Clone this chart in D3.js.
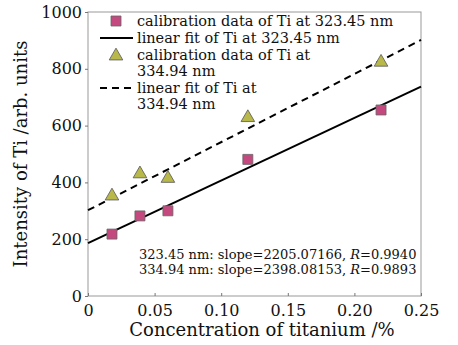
<!DOCTYPE html>
<html>
<head>
<meta charset="utf-8">
<script src="https://cdn.jsdelivr.net/npm/d3@7"></script>
<style>
  body { margin: 0; background: #fff; }
  svg text { font-family: "DejaVu Serif", serif; fill: #111; }
</style>
</head>
<body>
<svg id="chart" width="458" height="345"></svg>
<script>
// concentration of titanium (%)
const conc = [0.018, 0.039, 0.06, 0.12, 0.22];
// intensity at 323.45 nm
const ti323 = [218, 282, 300, 481, 655];
// intensity at 334.94 nm
const ti334 = [352, 430, 414, 628, 823];
// linear fits [intercept, slope]
const fit323 = [186, 2205.07166];
const fit334 = [302, 2398.08153];
const xTicks = [0, 0.05, 0.10, 0.15, 0.20, 0.25];
const yTicks = [0, 200, 400, 600, 800, 1000];
const legendLabels = [
  ["calibration data of Ti at 323.45 nm"],
  ["linear fit of Ti at 323.45 nm"],
  ["calibration data of Ti at", "334.94 nm"],
  ["linear fit of Ti at", "334.94 nm"]
];
const notes = [
  ["323.45 nm: slope=2205.07166, ", "R", "=0.9940"],
  ["334.94 nm: slope=2398.08153, ", "R", "=0.9893"]
];

const margin = {top: 12, right: 37, bottom: 49, left: 88};
const width = 458 - margin.left - margin.right;
const height = 345 - margin.top - margin.bottom;

const svg = d3.select("#chart");
const g = svg.append("g").attr("transform", `translate(${margin.left},${margin.top})`);

const x = d3.scaleLinear().domain([0, 0.25]).range([0, width]);
const y = d3.scaleLinear().domain([0, 1000]).range([height, 0]);

// frame
g.append("rect")
  .attr("width", width).attr("height", height)
  .attr("fill", "none").attr("stroke", "#999").attr("stroke-width", 1);

// x axis
const xAxis = g.append("g")
  .attr("transform", `translate(0,${height})`)
  .call(d3.axisBottom(x).tickValues(xTicks).tickSize(-3).tickPadding(9)
    .tickFormat((d, i) => i == 0 ? "0" : d3.format(".2f")(d)));
xAxis.select(".domain").remove();
xAxis.selectAll("line").attr("stroke", "#777");
xAxis.selectAll("text").style("font-size", "16px").attr("fill", "#111");

// y axis
const yAxis = g.append("g")
  .call(d3.axisLeft(y).tickValues(yTicks).tickSize(3).tickPadding(3).tickFormat(d3.format("d")));
yAxis.select(".domain").remove();
yAxis.selectAll("line").attr("stroke", "#777");
yAxis.selectAll("text").style("font-size", "16px").attr("fill", "#111");

// fit lines
const fitLine = (f) => [[0, f[0]], [0.25, f[0] + f[1] * 0.25]];
const line = d3.line().x(d => x(d[0])).y(d => y(d[1]));
g.append("path").datum(fitLine(fit323)).attr("d", line)
  .attr("fill", "none").attr("stroke", "#000").attr("stroke-width", 2);
g.append("path").datum(fitLine(fit334)).attr("d", line)
  .attr("fill", "none").attr("stroke", "#000").attr("stroke-width", 2)
  .attr("stroke-dasharray", "7,5");

// points
const sq = d3.symbol().type(d3.symbolSquare).size(100);
const tri = d3.symbol().type(d3.symbolTriangle).size(80);
g.selectAll(".sq").data(conc).enter().append("path")
  .attr("d", sq)
  .attr("transform", (d, i) => `translate(${x(d)},${y(ti323[i])})`)
  .attr("fill", "#c4497f").attr("stroke", "#666").attr("stroke-width", 0.8);
g.selectAll(".tri").data(conc).enter().append("path")
  .attr("d", tri)
  .attr("transform", (d, i) => `translate(${x(d)},${y(ti334[i])})`)
  .attr("fill", "#b9b84b").attr("stroke", "#555").attr("stroke-width", 0.8);

// legend
const lg = svg.append("g").attr("transform", "translate(100,0)");
const rowY = [21, 38, 55, 88];
lg.append("path").attr("d", sq).attr("transform", `translate(16,${rowY[0]})`)
  .attr("fill", "#c4497f").attr("stroke", "#666").attr("stroke-width", 0.8);
lg.append("line").attr("x1", 0).attr("x2", 33).attr("y1", rowY[1]).attr("y2", rowY[1])
  .attr("stroke", "#000").attr("stroke-width", 2);
lg.append("path").attr("d", tri).attr("transform", `translate(16,${rowY[2] + 1})`)
  .attr("fill", "#b9b84b").attr("stroke", "#555").attr("stroke-width", 0.8);
lg.append("line").attr("x1", 0).attr("x2", 33).attr("y1", rowY[3]).attr("y2", rowY[3])
  .attr("stroke", "#000").attr("stroke-width", 2).attr("stroke-dasharray", "7,5");
legendLabels.forEach((lines, i) => {
  lines.forEach((t, j) => {
    lg.append("text").attr("x", 37).attr("y", rowY[i] + 5 + j * 16)
      .style("font-size", "14.5px").text(t);
  });
});

// slope notes
notes.forEach((n, i) => {
  const t = svg.append("text").attr("x", 139).attr("y", 259 + i * 15)
    .style("font-size", "13px");
  t.append("tspan").text(n[0]);
  t.append("tspan").style("font-style", "italic").text(n[1]);
  t.append("tspan").text(n[2]);
});

// axis titles
svg.append("text").attr("x", 262).attr("y", 336)
  .attr("text-anchor", "middle").style("font-size", "18px")
  .text("Concentration of titanium /%");
svg.append("text").attr("transform", `translate(27,${margin.top + height / 2}) rotate(-90)`)
  .attr("text-anchor", "middle").style("font-size", "18px")
  .text("Intensity of Ti /arb. units");
</script>
</body>
</html>
